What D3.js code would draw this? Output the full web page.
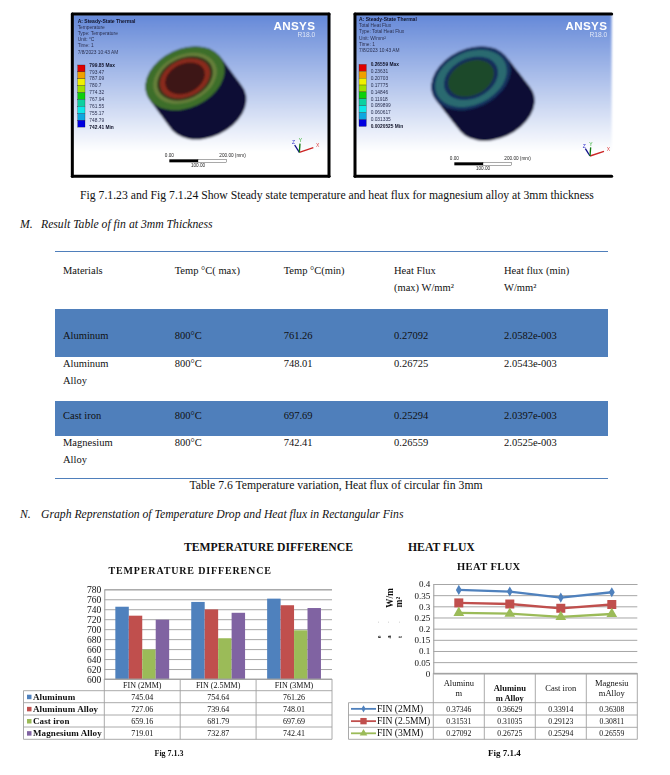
<!DOCTYPE html>
<html><head><meta charset="utf-8">
<script src="https://cdnjs.cloudflare.com/ajax/libs/d3/7.8.5/d3.min.js"></script>
<style>
html,body{margin:0;padding:0;background:#fff}
svg{display:block}
text{font-family:"Liberation Serif",serif}
</style></head><body>
<svg id="c" width="670" height="775"></svg>
<script>
// ---- data ----
const fins = ["FIN (2MM)", "FIN (2.5MM)", "FIN (3MM)"];
const materials = ["Aluminum", "Aluminum Alloy", "Cast iron", "Magnesium Alloy"];
const aluminumTemp = [745.04, 754.64, 761.26];
const alloyTemp = [727.06, 739.64, 748.01];
const castTemp = [659.16, 681.79, 697.69];
const magnesiumTemp = [719.01, 732.87, 742.41];
const tempTicks = [600,620,640,660,680,700,720,740,760,780];

const fluxCategories = [["Aluminu","m"],["Aluminu","m Alloy"],["Cast  iron"],["Magnesiu","mAlloy"]];
const flux2 = [0.37346, 0.36629, 0.33914, 0.36308];
const flux25 = [0.31531, 0.31035, 0.29123, 0.30811];
const flux3 = [0.27092, 0.26725, 0.25294, 0.26559];
const fluxTicks = [0,0.05,0.1,0.15,0.2,0.25,0.3,0.35,0.4];

const tableHead = [["Materials"],["Temp °C( max)"],["Temp °C(min)"],["Heat Flux","(max) W/mm²"],["Heat flux (min)","W/mm²"]];
const tableMaterials = [["Aluminum"],["Aluminum","Alloy"],["Cast iron"],["Magnesium","Alloy"]];
const tableTmax = ["800°C","800°C","800°C","800°C"];
const tableTmin = ["761.26","748.01","697.69","742.41"];
const tableFmax = ["0.27092","0.26725","0.25294","0.26559"];
const tableFmin = ["2.0582e-003","2.0543e-003","2.0397e-003","2.0525e-003"];

const tempLegend = ["799.85 Max","793.47","787.09","780.7","774.32","767.94","761.55","755.17","748.79","742.41 Min"];
const fluxLegend = ["0.26559 Max","0.23631","0.20703","0.17775","0.14846","0.11918","0.089899","0.060617","0.031335","0.0020525 Min"];
const legendColors = ["#e00000","#f0a000","#f0f000","#a0e000","#10d010","#10d0a0","#10e8e8","#10a8e0","#0000e0"];

const seriesColors = ["#4F81BD","#C0504D","#9BBB59","#8064A2"];

// ---- page ----
const svg = d3.select("#c");
const defs = svg.append("defs");
const grad = defs.append("linearGradient").attr("id","bg").attr("x1",0).attr("x2",0).attr("y1",0).attr("y2",1);
grad.append("stop").attr("offset","0%").attr("stop-color","#6488d8");
grad.append("stop").attr("offset","85%").attr("stop-color","#ffffff");
defs.append("filter").attr("id","b1").attr("x","-5%").attr("y","-5%").attr("width","110%").attr("height","110%")
  .append("feGaussianBlur").attr("stdDeviation",2.4);
defs.append("filter").attr("id","b2").attr("x","-5%").attr("y","-5%").attr("width","110%").attr("height","110%")
  .append("feGaussianBlur").attr("stdDeviation",0.28);
defs.append("filter").attr("id","b3").attr("x","-5%").attr("y","-5%").attr("width","110%").attr("height","110%")
  .append("feGaussianBlur").attr("stdDeviation",1.1);

function txt(g,x,y,s,size,o={}){
  return g.append("text").attr("x",x).attr("y",y).attr("font-size",size)
    .attr("text-anchor",o.anchor||"start").attr("font-weight",o.weight||null)
    .attr("font-style",o.style||null).attr("letter-spacing",o.ls||null).style("fill",o.fill||"#111").text(s);
}

// ---- ANSYS screenshots (zoom-grid units, scaled 1/3) ----
function ansys(ox,oy,cfg){
  const g = svg.append("g").attr("transform",`translate(${ox},${oy}) scale(${1/3})`);
  const art = g.append("g").attr("filter","url(#b1)");
  art.append("rect").attr("x",cfg.x0).attr("y",28).attr("width",cfg.x1-cfg.x0).attr("height",485).attr("fill","url(#bg)");
  const steps = d3.range(0,1.001,0.05);
  art.selectAll("ellipse.body").data(steps).join("ellipse").attr("class","body")
    .attr("cx",d=>cfg.cx+cfg.dx*d).attr("cy",d=>cfg.cy+cfg.dy*d).attr("rx",cfg.rx).attr("ry",cfg.ry)
    .attr("transform",d=>`rotate(-25 ${cfg.cx+cfg.dx*d} ${cfg.cy+cfg.dy*d})`).attr("fill","#0a1036");
  cfg.rings.forEach(([k,col])=>{
    art.append("ellipse").attr("cx",cfg.cx).attr("cy",cfg.cy).attr("rx",cfg.rx*k).attr("ry",cfg.ry*k)
      .attr("transform",`rotate(-25 ${cfg.cx} ${cfg.cy})`).attr("fill",col);
  });
  // frame
  const f = g.append("g").attr("stroke","#000").attr("stroke-width",9).attr("stroke-linecap","round").attr("filter","url(#b3)");
  f.append("line").attr("x1",cfg.x0).attr("x2",cfg.x1).attr("y1",27).attr("y2",27);
  f.append("line").attr("x1",cfg.x0).attr("x2",cfg.x1).attr("y1",514).attr("y2",514);
  f.append("line").attr("x1",cfg.x0).attr("x2",cfg.x0).attr("y1",27).attr("y2",514);
  if(cfg.rightFrame) f.append("line").attr("x1",cfg.x1).attr("x2",cfg.x1).attr("y1",27).attr("y2",514);
  // header text
  const t = g.append("g").attr("filter","url(#b3)");
  const sans = s=>s.style("font-family","'Liberation Sans',sans-serif");
  cfg.head.forEach((s,i)=>sans(txt(t,cfg.tx,cfg.ty+i*18.6,s,i==0?15:14.5,{weight:i==0?"bold":null,fill:i==0?"#10142a":"#2a3050"})));
  sans(txt(t,cfg.ax,76,"ANSYS",35,{anchor:"end",weight:"bold",fill:"#fff",ls:"1px"}));
  sans(txt(t,cfg.ax,97,"R18.0",20,{anchor:"end",fill:"#dfe6f6"}));
  legendColors.forEach((c,i)=>{
    t.append("rect").attr("x",cfg.tx).attr("y",cfg.ly+i*20.7).attr("width",22).attr("height",20.7).attr("fill",c).attr("stroke","#222").attr("stroke-width",.8);
  });
  cfg.legend.forEach((s,i)=>sans(txt(t,cfg.tx+35,cfg.ly+5+i*20.7,s,14.5,{weight:(i==0||i==9)?"bold":null,fill:(i==0||i==9)?"#10142a":"#2a3050"})));
  t.append("rect").attr("x",cfg.sx).attr("y",cfg.sy).attr("width",86).attr("height",9).attr("fill","#000");
  t.append("rect").attr("x",cfg.sx+86).attr("y",cfg.sy).attr("width",86).attr("height",9).attr("fill","#fff").attr("stroke","#000").attr("stroke-width",1);
  sans(txt(t,cfg.sx,cfg.sy-8,"0.00",14,{anchor:"middle",fill:"#222"}));
  sans(txt(t,cfg.sx+150,cfg.sy-8,"200.00 (mm)",14,{fill:"#222"}));
  sans(txt(t,cfg.sx+86,cfg.sy+24,"100.00",14,{anchor:"middle",fill:"#222"}));
  const a = g.append("g").attr("fill","none").attr("stroke-width",4).attr("filter","url(#b3)");
  const [ax,ay]=cfg.triad;
  a.append("line").attr("x1",ax).attr("y1",ay).attr("x2",ax+42).attr("y2",ay-14).attr("stroke","#c22");
  a.append("line").attr("x1",ax).attr("y1",ay).attr("x2",ax-14).attr("y2",ay-22).attr("stroke","#118");
  a.append("line").attr("x1",ax).attr("y1",ay).attr("x2",ax+2).attr("y2",ay-26).attr("stroke","#171");
  sans(txt(t,ax+50,ay-16,"X",15,{fill:"#d44"}));
  sans(txt(t,ax-22,ay-24,"Z",15,{fill:"#33c"}));
  sans(txt(t,ax-2,ay-30,"Y",15,{fill:"#2a2"}));
}
ansys(70,5,{x0:7,x1:777,rightFrame:true,ax:736,cx:345,cy:220,rx:125,ry:88,dx:65,dy:88,
  rings:[[1,"#3c6e2a"],[.8,"#66803a"],[.7,"#34321c"],[.63,"#8a2c1a"],[.5,"#3e1414"]],
  head:["A: Steady-State Thermal","Temperature","Type: Temperature","Unit: °C","Time: 1","7/8/2023 10:43 AM"],tx:23,ty:53,
  ly:180,legend:tempLegend,sx:298,sy:463,triad:[688,442]});
ansys(345,5,{x0:30,x1:800,rightFrame:false,ax:787,cx:378,cy:220,rx:125,ry:88,dx:72,dy:92,
  rings:[[1,"#14305f"],[.9,"#2a6a70"],[.68,"#122c5c"],[.58,"#1c4a2c"]],
  head:["A: Steady-State Thermal","Total Heat Flux","Type: Total Heat Flux","Unit: W/mm²","Time: 1","7/8/2023 10:43 AM"],tx:42,ty:48,
  ly:178,legend:fluxLegend,sx:328,sy:472,triad:[735,453]});

// ---- body text ----
const doc = svg.append("g");
txt(doc,337,199,"Fig 7.1.23 and Fig 7.1.24 Show Steady state temperature and heat flux for magnesium alloy at 3mm thickness",11.7,{anchor:"middle"});
txt(doc,20,228,"M.",11.7,{style:"italic"});
txt(doc,41,228,"Result Table of fin at 3mm Thickness",11.7,{style:"italic"});
txt(doc,20,518,"N.",11.7,{style:"italic"});
txt(doc,41,518,"Graph Reprenstation of Temperature Drop and Heat flux in Rectangular Fins",11.7,{style:"italic"});
txt(doc,336,489,"Table 7.6 Temperature variation, Heat flux of circular fin 3mm",11.7,{anchor:"middle"});
txt(doc,184,551,"TEMPERATURE DIFFERENCE",11.7,{weight:"bold"});
txt(doc,408,551,"HEAT FLUX",11.7,{weight:"bold"});

// ---- result table ----
const tbl = svg.append("g");
const colX = [63,174.7,283.7,394,504];
const tL=55,tR=608;
[[309,357],[401,436]].forEach(([a,b])=>tbl.append("rect").attr("x",tL).attr("y",a).attr("width",tR-tL).attr("height",b-a).attr("fill","#4F7FBB"));
[251.5,478.5].forEach(y=>tbl.append("line").attr("x1",tL).attr("x2",tR).attr("y1",y).attr("y2",y).attr("stroke","#4F7FBB").attr("stroke-width",1));
tableHead.forEach((lines,c)=>lines.forEach((s,i)=>txt(tbl,colX[c],274+i*17,s,10.5)));
const rowY = [339,367,419,446];
tableMaterials.forEach((lines,r)=>{
  lines.forEach((s,i)=>txt(tbl,colX[0],rowY[r]+i*16.5,s,10.5));
  [tableTmax,tableTmin,tableFmax,tableFmin].forEach((col,c)=>txt(tbl,colX[c+1],rowY[r],col[r],10.5));
});

// ---- bar chart ----
const barG = svg.append("g").attr("filter","url(#b2)");
txt(barG,108.5,574,"TEMPERATURE DIFFERENCE",10,{weight:"bold",ls:"0.85px"});
const tx0 = d3.scaleBand().domain(fins).range([104.3,332]).paddingInner(0).paddingOuter(0);
const tSeries = [aluminumTemp,alloyTemp,castTemp,magnesiumTemp];
const tx1 = d3.scaleBand().domain(materials).range([0,tx0.bandwidth()]).paddingInner(0).paddingOuter(0.82);
const ty = d3.scaleLinear().domain([600,780]).range([679,589.3]);
const yAxisT = barG.append("g").attr("transform","translate(104.3,0)")
  .call(d3.axisLeft(ty).tickValues(tempTicks).tickSize(-227.7).tickPadding(3));
yAxisT.select(".domain").attr("stroke","#999");
yAxisT.selectAll(".tick line").attr("stroke","#a6a6a6").attr("stroke-width",1);
yAxisT.selectAll(".tick text").attr("font-size",9.5).attr("font-family","'Liberation Serif',serif").attr("fill","#111");
materials.forEach((m,i)=>{
  barG.append("g").selectAll("rect").data(tSeries[i]).join("rect")
    .attr("x",(d,j)=>tx0(fins[j])+tx1(m)).attr("width",tx1.bandwidth())
    .attr("y",d=>ty(d)).attr("height",d=>ty(600)-ty(d)).attr("fill",seriesColors[i]);
});
const tRows = [679,690.7,702.7,715,727,739.3];
const tGrid = barG.append("g").attr("stroke","#a0a0a0").attr("stroke-width",.9);
tRows.forEach((y,i)=>tGrid.append("line").attr("x1",i==0?104.3:23.5).attr("x2",332).attr("y1",y).attr("y2",y));
tx0.range().concat(fins.slice(1).map(f=>tx0(f))).forEach(x=>tGrid.append("line").attr("x1",x).attr("x2",x).attr("y1",679).attr("y2",739.3));
tGrid.append("line").attr("x1",23.5).attr("x2",23.5).attr("y1",690.7).attr("y2",739.3);
fins.forEach(f=>txt(barG,tx0(f)+tx0.bandwidth()/2,687.5,f,8,{anchor:"middle"}));
materials.forEach((m,i)=>{
  const mid=(tRows[i+1]+tRows[i+2])/2;
  barG.append("rect").attr("x",27).attr("y",mid-2).attr("width",4.5).attr("height",4.5).attr("fill",seriesColors[i]);
  txt(barG,33,mid+3,m,9,{weight:"bold",ls:"0.1px"});
  tSeries[i].forEach((v,j)=>txt(barG,tx0(fins[j])+tx0.bandwidth()/2,mid+3,v.toFixed(2),8,{anchor:"middle"}));
});
txt(barG,154.5,755.5,"Fig  7.1.3",8,{weight:"bold"});

// ---- line chart ----
const lineG = svg.append("g").attr("filter","url(#b2)");
txt(lineG,457,570,"HEAT FLUX",10.5,{weight:"bold",ls:"0.4px"});
const catKeys = fluxCategories.map(d=>d.join(" "));
const lx = d3.scaleBand().domain(catKeys).range([433.3,637.3]);
const ly = d3.scaleLinear().domain([0,0.4]).range([673.3,584]);
const yAxisL = lineG.append("g").attr("transform","translate(433.3,0)")
  .call(d3.axisLeft(ly).tickValues(fluxTicks).tickFormat(d=>String(d)).tickSize(-204).tickPadding(3));
yAxisL.select(".domain").attr("stroke","#999");
yAxisL.selectAll(".tick line").attr("stroke","#a6a6a6").attr("stroke-width",1);
yAxisL.selectAll(".tick text").attr("font-size",9).attr("font-family","'Liberation Serif',serif").attr("fill","#111");
const lSeries=[flux2,flux25,flux3], lNames=fins, lCols=seriesColors.slice(0,3);
const symbols=[d3.symbolDiamond,d3.symbolSquare,d3.symbolTriangle], symSize=[30,81,50];
const lineGen = d3.line().x((d,i)=>lx(catKeys[i])+lx.bandwidth()/2).y(d=>ly(d));
lSeries.forEach((s,i)=>{
  lineG.append("path").attr("d",lineGen(s)).attr("fill","none").attr("stroke",lCols[i]).attr("stroke-width",2.3);
  lineG.append("g").selectAll("path").data(s).join("path")
    .attr("d",d3.symbol().type(symbols[i]).size(symSize[i]))
    .attr("transform",(d,j)=>`translate(${lx(catKeys[j])+lx.bandwidth()/2},${ly(d)})`).attr("fill",lCols[i]);
});
// broken axis title
const axT = lineG.append("g");
[["W/m",393,598,9.5],["m²",402,602,9.5]].forEach(([s,x,y,fs])=>{
  axT.append("text").attr("transform",`translate(${x},${y}) rotate(-90)`).attr("font-size",fs).attr("font-weight","bold").attr("text-anchor","middle").style("fill","#111").text(s);
});
[["t",402],["a",391],["e",381]].forEach(([s,x])=>{
  axT.append("text").attr("transform",`translate(${x},637) rotate(-90)`).attr("font-size",6).attr("font-weight","bold").attr("text-anchor","middle").style("fill","#111").text(s);
  axT.append("text").attr("transform",`translate(${x},622) rotate(-90)`).attr("font-size",5).attr("text-anchor","middle").style("fill","#888").text("'");
});
const lRows=[673.3,702.7,715,727.3,739.3];
const lGrid=lineG.append("g").attr("stroke","#a0a0a0").attr("stroke-width",.9);
lRows.forEach((y,i)=>lGrid.append("line").attr("x1",i==0?433.3:348.5).attr("x2",637.3).attr("y1",y).attr("y2",y));
catKeys.forEach(k=>lGrid.append("line").attr("x1",lx(k)).attr("x2",lx(k)).attr("y1",673.3).attr("y2",739.3));
lGrid.append("line").attr("x1",637.3).attr("x2",637.3).attr("y1",673.3).attr("y2",739.3);
lGrid.append("line").attr("x1",348.5).attr("x2",348.5).attr("y1",702.7).attr("y2",739.3);
fluxCategories.forEach((lines,i)=>{
  const cx=lx(catKeys[i])+lx.bandwidth()/2;
  const base = lines.length==1?691:(i==1?691:686);
  lines.forEach((s,k)=>txt(lineG,cx,base+k*9.5,s,8.5,{anchor:"middle",weight:i==1?"bold":null}));
});
lNames.forEach((n,i)=>{
  const mid=(lRows[i+1]+lRows[i+2])/2;
  lineG.append("line").attr("x1",351).attr("x2",376).attr("y1",mid).attr("y2",mid).attr("stroke",lCols[i]).attr("stroke-width",1.8);
  lineG.append("path").attr("d",d3.symbol().type(symbols[i]).size(symSize[i]*.5)).attr("transform",`translate(363.5,${mid})`).attr("fill",lCols[i]);
  txt(lineG,377,mid+3,n,9.6);
  lSeries[i].forEach((v,j)=>txt(lineG,lx(catKeys[j])+lx.bandwidth()/2,mid+3,v.toFixed(5),7.7,{anchor:"middle"}));
});
txt(lineG,488,755.5,"Fig 7.1.4",9,{weight:"bold"});
</script>
</body></html>
